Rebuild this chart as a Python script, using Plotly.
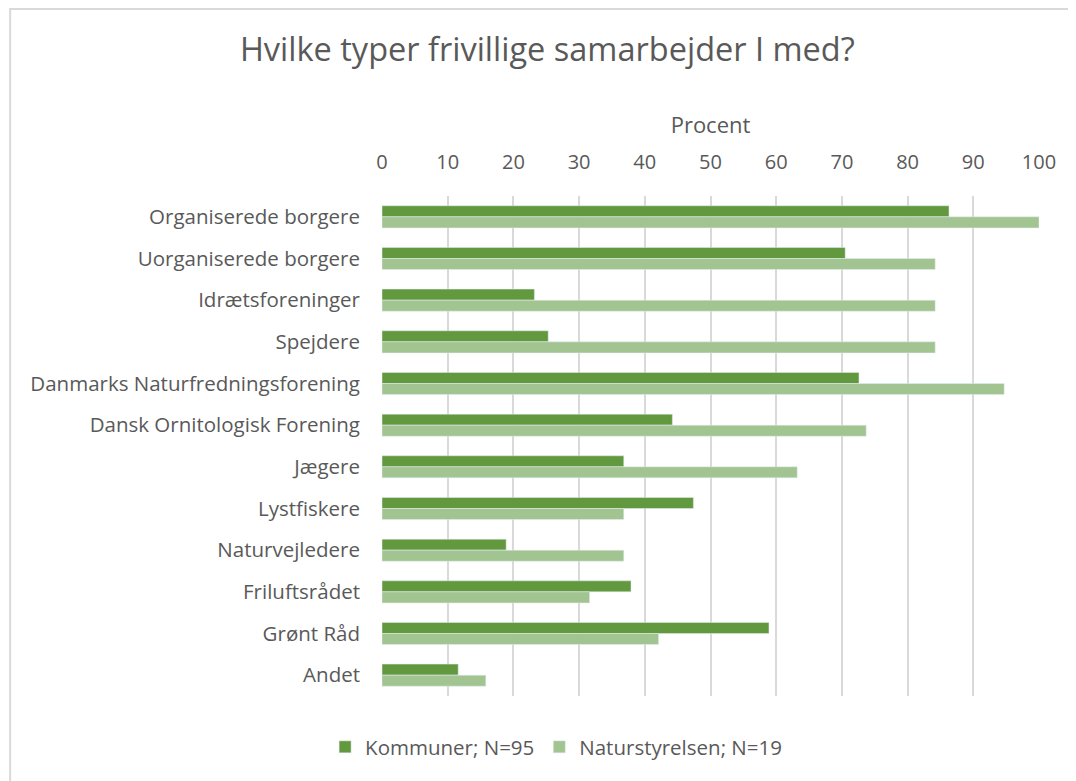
import plotly.graph_objects as go

categories = ['Organiserede borgere', 'Uorganiserede borgere', 'Idrætsforeninger', 'Spejdere',
              'Danmarks Naturfredningsforening', 'Dansk Ornitologisk Forening', 'Jægere',
              'Lystfiskere', 'Naturvejledere', 'Friluftsrådet', 'Grønt Råd', 'Andet']
kommuner = [86.3, 70.5, 23.2, 25.3, 72.6, 44.2, 36.8, 47.4, 18.9, 37.9, 58.9, 11.6]
naturstyrelsen = [100, 84.2, 84.2, 84.2, 94.7, 73.7, 63.2, 36.8, 36.8, 31.6, 42.1, 15.8]
ticks = list(range(0, 101, 10))

font = '"Open Sans", sans-serif'
grey = '#595959'

fig = go.Figure()
fig.add_trace(go.Bar(y=categories, x=kommuner, orientation='h', name='Kommuner; N=95',
                     marker_color='#62993E'))
fig.add_trace(go.Bar(y=categories, x=naturstyrelsen, orientation='h', name='Naturstyrelsen; N=19',
                     marker_color='#A1C490'))

# page body has an 8px margin; figure is sized so it fits the window without scrollbars
fig.update_layout(
    width=1068, height=773,
    margin=dict(l=374, r=37, t=188, b=85),
    paper_bgcolor='white', plot_bgcolor='white',
    barmode='group', bargap=0.47, bargroupgap=0,
    font=dict(family=font, color=grey, size=20),
    title=dict(text='Hvilke typer frivillige samarbejder I med?', x=0.505, xref='container',
               xanchor='center', y=0.946, yanchor='middle', font=dict(size=32.5, color=grey)),
    xaxis=dict(side='top', range=[0, 100], tickvals=ticks, showgrid=True,
               gridcolor='#d9d9d9', gridwidth=2, zeroline=False, showline=False,
               title=dict(text='Procent', font=dict(size=22, color=grey), standoff=8),
               tickfont=dict(size=20, color=grey), ticks='', ticklabelstandoff=22),
    yaxis=dict(autorange='reversed', showgrid=False, ticks='', ticklabelstandoff=21,
               tickfont=dict(size=20.5, color=grey)),
    legend=dict(orientation='h', x=0.265, xanchor='center', y=-0.062, yanchor='top',
                font=dict(size=20.5, color=grey), traceorder='normal'),
    shapes=[dict(type='rect', xref='paper', yref='paper', x0=-0.566, x1=1.3, y0=-0.4, y1=1.374,
                 line=dict(color='#d9d9d9', width=2), fillcolor='rgba(0,0,0,0)', layer='below')],
)

fig.write_html('out.html')
